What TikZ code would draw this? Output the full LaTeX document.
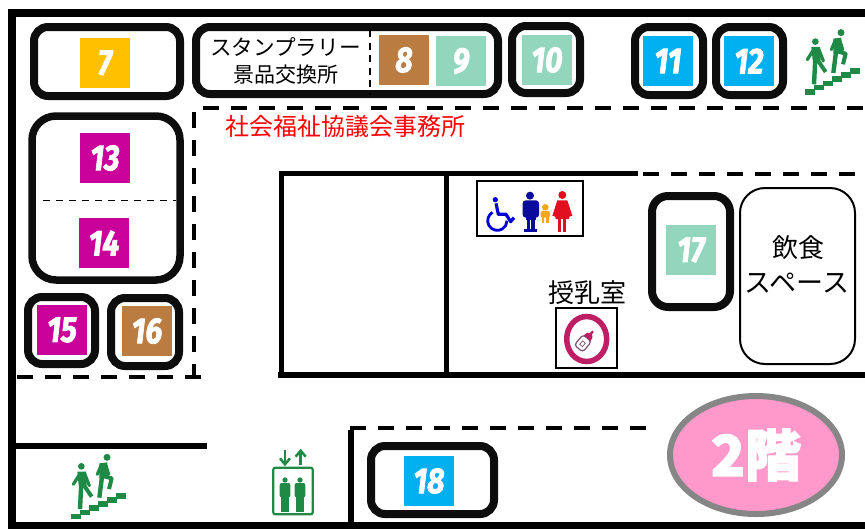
\documentclass[tikz,border=0pt]{standalone}
\usepackage{fontspec}
\usepackage{graphicx}
\usetikzlibrary{shapes.geometric}
\setmainfont{Noto Sans CJK JP}
\newfontfamily\jpf{Noto Sans CJK JP}
\newfontfamily\badgef[BoldFeatures={FakeBold=2.5}]{Noto Sans CJK JP}
\newfontfamily\numf[BoldItalicFeatures={FakeBold=2.2}]{Fira Sans}
\definecolor{boxk}{HTML}{0D0D0D}
\definecolor{cyel}{HTML}{FFC000}
\definecolor{cbrn}{HTML}{BA7C40}
\definecolor{cmint}{HTML}{92D6BE}
\definecolor{cblue}{HTML}{00B0F0}
\definecolor{cmag}{HTML}{C9009A}
\definecolor{cgrn}{HTML}{1F8A45}
\definecolor{cring}{HTML}{BE1E64}
\definecolor{cbot}{HTML}{7A4F72}
\definecolor{cpink}{HTML}{FF99CC}
\definecolor{cgry}{HTML}{868686}
\newcommand{\numtxt}[1]{\scalebox{.84}[1]{#1}}
\tikzset{
  wall/.style={line width=#1,black},
  stall/.style={draw=boxk,line width=8pt,rounded corners=14pt},
  dashline/.style={black,line width=4.5pt,dash pattern=on 16pt off 12pt},
  sq/.style={fill=#1,text=white,minimum width=50pt,minimum height=50pt,inner sep=0pt,
    font=\fontsize{36}{36}\selectfont\numf\bfseries\itshape},
  jp/.style={inner sep=0pt,font=\fontsize{#1}{#1}\selectfont\jpf},
  pics/stairs/.style={code={
    \begin{scope}[scale=1/3,cgrn]
      \foreach \i in {0,...,5}
        \fill ({33+27*\i},{206-12.5*\i}) rectangle ++(29,17);
      \fill (64,64) circle (10);
      \fill (52,80) -- (78,80) -- (80,120) -- (56,120) -- cycle;
      \draw[line width=3.2pt,line cap=round] (60,86) -- (40,118);
      \draw[line width=3.2pt,line cap=round] (74,86) -- (88,122);
      \draw[line width=4.4pt] (64,112) -- (60,192);
      \draw[line width=4pt] (68,115) -- (95,155);
      \fill (141,37) circle (10.5);
      \fill (118,55) -- (142,52) -- (144,100) -- (118,100) -- cycle;
      \draw[line width=3.2pt,line cap=round] (124,60) -- (112,88);
      \draw[line width=3.2pt,line cap=round] (138,62) -- (146,88);
      \draw[line width=4.4pt] (126,95) -- (118,158);
      \draw[line width=4pt,line join=round] (130,93) -- (155,100) -- (147,132);
    \end{scope}
  }},
  pics/liftman/.style={code={
    \begin{scope}[scale=1/3,cgrn]
      \fill (0,0) circle (8);
      \fill[rounded corners=2pt] (-16,9) rectangle (16,52);
      \fill (-11,45) rectangle (-1,96);
      \fill (1,45) rectangle (11,96);
    \end{scope}
  }}
}
\begin{document}
\begin{tikzpicture}[x=1pt,y=-1pt]
\useasboundingbox (0,0) rectangle (865,528);
\fill[white] (0,0) rectangle (865,528);
% outer walls
\draw[wall=8pt] (865,13) -- (12,13) -- (12,526) -- (865,526);
% dashed partitions
\draw[dashline] (203,108) -- (865,108);
\draw[dashline] (194,112) -- (194,376);
\draw[dashline] (17,377) -- (201,377);
\draw[dashline,line width=4pt] (643,173.5) -- (855,173.5);
\draw[dashline] (350,428) -- (646,428);
% inner walls
\draw[wall=5pt] (638,173) -- (281,173) -- (281,375) -- (865,375);
\draw[wall=6pt] (278,375) -- (865,375);
\draw[wall=5pt] (446,173) -- (446,373);
\draw[wall=6pt] (16,446) -- (207,446);
\draw[wall=6pt] (351,430) -- (351,524);
% stalls
\draw[stall] (34,27) rectangle (180,96);
\draw[stall] (196,27) rectangle (498,94);
\draw[stall] (512,26) rectangle (580,93);
\draw[stall] (635,27) rectangle (703,95);
\draw[stall] (716,27) rectangle (783,95);
\draw[stall,rounded corners=24pt,line width=7.5pt] (32,116) rectangle (180,280);
\draw[stall] (28,297) rectangle (95,364);
\draw[stall] (111,298) rectangle (179,366);
\draw[stall,rounded corners=16pt] (652,196) rectangle (730,307);
\draw[stall] (371,446) rectangle (494,514);
\draw[line width=2pt,rounded corners=25pt] (740,188) rectangle (855,364);
% thin dashes
\draw[line width=1.5pt,dash pattern=on 7pt off 5.5pt] (370,30) -- (370,95);
\draw[line width=1.5pt,dash pattern=on 7pt off 6pt] (43,200.5) -- (176,200.5);
% numbered squares
\node[sq=cyel] (n7) at (105,63) {\numtxt{7}};
\node[sq=cbrn] (n8) at (404,60) {\numtxt{8}};
\node[sq=cmint] (n9) at (461,61) {\numtxt{9}};
\node[sq=cmint] (n10) at (547,60) {\numtxt{10}};
\node[sq=cblue] (n11) at (668,61) {\numtxt{11}};
\node[sq=cblue] (n12) at (749,61) {\numtxt{12}};
\node[sq=cmag] (n13) at (105,158) {\numtxt{13}};
\node[sq=cmag] (n14) at (104,243) {\numtxt{14}};
\node[sq=cmag] (n15) at (62,330) {\numtxt{15}};
\node[sq=cbrn] (n16) at (147,331) {\numtxt{16}};
\node[sq=cmint] (n17) at (691,250) {\numtxt{17}};
\node[sq=cblue] (n18) at (429,481) {\numtxt{18}};
% labels
\node[jp=21.6] (stamp) at (285.5,47) {スタンプラリー};
\node[jp=21] (prize) at (285.5,75) {景品交換所};
\node[jp=24,text=red] (office) at (345,126) {社会福祉協議会事務所};
\node[jp=26] (eat1) at (798,248) {飲食};
\node[jp=27] (eat2) at (797,283) {スペース};
\node[jp=26] (nurse) at (587,293) {授乳室};
% toilet sign
\draw[line width=2pt] (477,181) rectangle (583,236);
\begin{scope}[shift={(470,175)},scale=1/3]
  \fill[blue!85!black] (76,74) circle (8);
  \draw[blue!85!black,line width=2.8pt] (67.5,112) arc[start angle=-120,end angle=-360,radius=29];
  \draw[blue!85!black,line width=3.2pt,line join=round] (78,85) -- (85,118) -- (108,118) -- (122,140) -- (132,128);
  \begin{scope}[fill={rgb,255:red,10;green,10;blue,156}]
    \fill (180,62) circle (12);
    \fill[rounded corners=3pt] (158,76) rectangle (207,128);
    \fill (168,100) rectangle (197,135);
    \fill (170,125) rectangle (181,168);
    \fill (184,125) rectangle (195,168);
    \fill (163,162) rectangle (202,172);
  \end{scope}
  \begin{scope}[fill={rgb,255:red,245;green,168;blue,28}]
    \fill (226,97) circle (10);
    \fill[rounded corners=2pt] (212,108) rectangle (240,128);
    \fill (216,124) rectangle (223,145);
    \fill (229,124) rectangle (236,145);
  \end{scope}
  \begin{scope}[fill={rgb,255:red,224;green,16;blue,32}]
    \fill (277,60) circle (12);
    \fill (262,76) -- (292,76) -- (307,122) -- (298,125) -- (297,132) -- (257,132) -- (256,125) -- (247,122) -- cycle;
    \fill (265,130) rectangle (274,170);
    \fill (280,130) rectangle (289,170);
  \end{scope}
\end{scope}
% nursing room sign
\draw[line width=2pt] (556,308) rectangle (617,368);
\draw[cring,line width=5.5pt] (586.7,339) ellipse [x radius=20,y radius=22.5];
\begin{scope}[shift={(584,342)},rotate=-40]
  \draw[cbot,line width=1.2pt,rounded corners=3pt] (-5.5,-5) rectangle (5.5,8.5);
  \fill[cring] (-4.5,-5) -- (-3.5,-9) -- (-1.2,-11) -- (-1,-14) -- (1,-14) -- (1.2,-11) -- (3.5,-9) -- (4.5,-5) -- cycle;
  \draw[cbot,line width=.7pt] (-1.8,0) rectangle (1.8,4.5);
\end{scope}
% stairs and lift
\pic at (60,445) {stairs};
\pic at (794,20.3) {stairs};
\begin{scope}[shift={(260,445)},scale=1/3]
  \draw[cgrn,line width=2.2pt,rounded corners=2pt] (40,68) rectangle (158,208);
  \draw[cgrn,line width=2.5pt] (75,15) -- (75,58);
  \draw[cgrn,line width=2.5pt] (60,40) -- (75,58) -- (90,40);
  \draw[cgrn,line width=2.5pt] (122,60) -- (122,17);
  \draw[cgrn,line width=2.5pt] (107,35) -- (122,17) -- (137,35);
\end{scope}
\pic at (285,480) {liftman};
\pic at (300,480) {liftman};
% floor badge
\node[ellipse,draw=cgry,fill=cpink,line width=6pt,minimum width=172pt,minimum height=118pt,inner sep=0pt,text=white,
  font=\fontsize{56}{56}\selectfont\badgef\bfseries] (floor) at (756,455) {2階};
\end{tikzpicture}
\end{document}
